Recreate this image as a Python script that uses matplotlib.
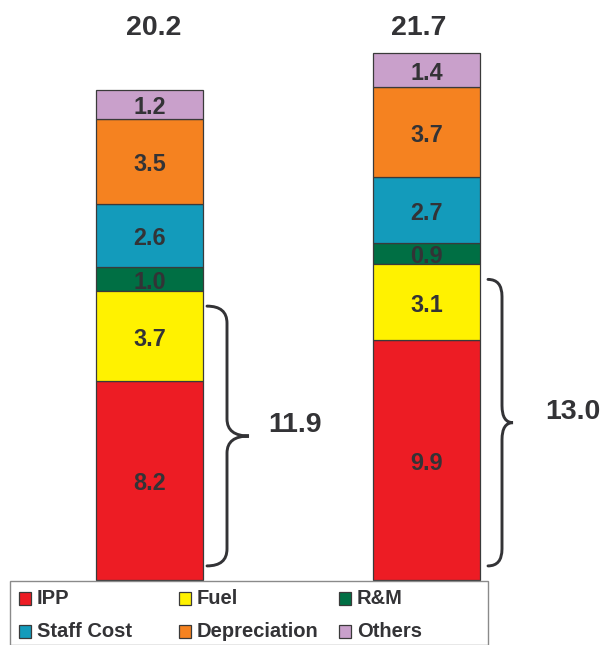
import matplotlib
matplotlib.use("Agg")
import matplotlib.pyplot as plt
from matplotlib.path import Path
from matplotlib.patches import PathPatch, Rectangle
import numpy as np

plt.rcParams["font.family"] = ["Liberation Sans", "DejaVu Sans"]

# ---- data ----
scenarios = ["A", "B"]
categories = ["IPP", "Fuel", "R&M", "Staff Cost", "Depreciation", "Others"]
ipp = [8.2, 9.9]
fuel = [3.7, 3.1]
rm = [1.0, 0.9]
staff = [2.6, 2.7]
depreciation = [3.5, 3.7]
others = [1.2, 1.4]
totals = [20.2, 21.7]
bracket_totals = [11.9, 13.0]

colors = ["#ED1C24", "#FFF200", "#006F44", "#139BBB", "#F58220", "#C9A0CB"]
text_color = "#333336"
edge_color = "#3a3a3a"

series = [ipp, fuel, rm, staff, depreciation, others]

W, H = 604, 645
fig = plt.figure(figsize=(W / 100, H / 100), dpi=100)
ax = fig.add_axes([0, 0, 1, 1])
ax.set_axis_off()

# axis limits: baseline 65 px above the bottom edge, ~24.28 px per unit
py_per_unit = 24.28
px_per_x = 277.0
ax.set_ylim(-65 / py_per_unit, (H - 65) / py_per_unit)
ax.set_xlim(-149.5 / px_per_x, (W - 149.5) / px_per_x)

x = np.arange(len(scenarios))
bar_w = 107 / px_per_x
bottoms = np.zeros(len(scenarios))
for name, vals, col in zip(categories, series, colors):
    # the Fuel block sits above the neighbouring labels so the small R&M
    # figures tuck under its top edge
    z = 4 if name == "Fuel" else 2
    lz = 5 if name == "Fuel" else 3
    ax.bar(x, vals, bar_w, bottom=bottoms, color=col, edgecolor=edge_color,
           linewidth=0.9, zorder=z)
    for xi, b, v in zip(x, bottoms, vals):
        ax.annotate(f"{v:.1f}", (xi, b + v / 2), xytext=(0, -2.5),
                    textcoords="offset points", ha="center", va="center",
                    fontsize=16.8, fontweight="bold", color=text_color,
                    zorder=lz)
    bottoms = bottoms + np.array(vals)

# totals above the bars
total_dx = [4.5 / px_per_x, -7.5 / px_per_x]
for xi, t, dx in zip(x, totals, total_dx):
    ax.text(xi + dx, 22.75, f"{t:.1f}", ha="center", va="center",
            fontsize=20.5, fontweight="bold", color=text_color)


def brace(x0, xv, xt, y0, y1, r0, r1):
    ym = (y0 + y1) / 2
    verts = [
        (x0, y1), (xv, y1), (xv, y1 - r0),
        (xv, ym + r1),
        (xv, ym), (xt, ym),
        (xv, ym), (xv, ym - r1),
        (xv, y0 + r0),
        (xv, y0), (x0, y0),
    ]
    codes = [Path.MOVETO, Path.CURVE3, Path.CURVE3,
             Path.LINETO,
             Path.CURVE3, Path.CURVE3,
             Path.CURVE3, Path.CURVE3,
             Path.LINETO,
             Path.CURVE3, Path.CURVE3]
    ax.add_patch(PathPatch(Path(verts, codes), fill=False,
                           edgecolor=text_color, linewidth=2.1,
                           capstyle="round", zorder=6))


brace_shape = [(4, 24, 46), (8, 22, 33)]
for xi, bt, (s, v, t) in zip(x, bracket_totals, brace_shape):
    edge = xi + bar_w / 2
    y0, y1 = 0.58, bt - 0.62
    brace(edge + s / px_per_x, edge + v / px_per_x, edge + t / px_per_x,
          y0, y1, 0.7, 0.7)
    ax.text(edge + 65 / px_per_x, (y0 + y1) / 2 + 0.45, f"{bt:.1f}",
            ha="left", va="center", fontsize=20.5, fontweight="bold",
            color=text_color)

# legend box drawn in figure pixel coordinates
tr = fig.transFigure
box = Rectangle((10 / W, 0), 478 / W, (H - 581) / H, transform=tr,
                facecolor="white", edgecolor="#8a8a8a", linewidth=1.0,
                zorder=10)
fig.patches.append(box)
col_x = [19, 179, 339]
row_y = [598.5, 631.5]
for k in range(len(categories)):
    r, c = divmod(k, 3)
    sx, sy = col_x[c], row_y[r]
    sq = Rectangle((sx / W, (H - sy - 6.5) / H), 12 / W, 13 / H,
                   transform=tr, facecolor=colors[k], edgecolor=edge_color,
                   linewidth=0.9, zorder=11)
    fig.patches.append(sq)
    fig.text((sx + 18) / W, (H - sy) / H, categories[k], ha="left",
             va="center", fontsize=14.5, fontweight="bold",
             color=text_color, zorder=12)

fig.savefig("out.png", dpi=100)
